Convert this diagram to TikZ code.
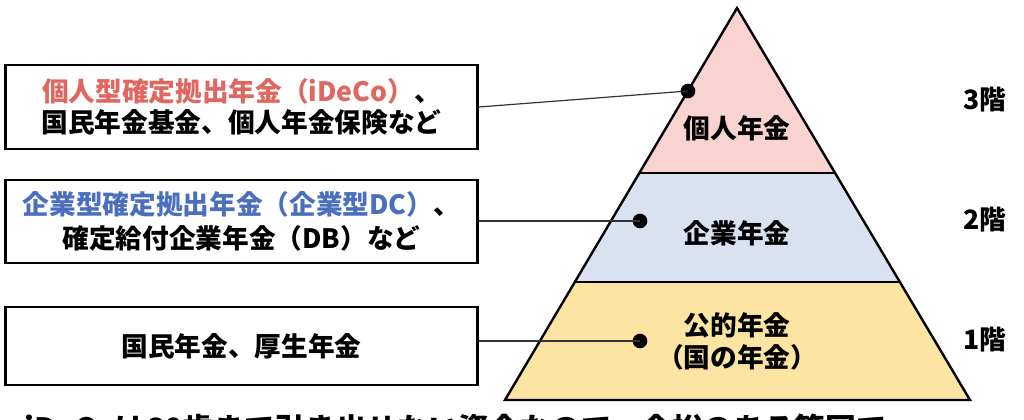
\documentclass[tikz,border=0pt]{standalone}
\usepackage{fontspec}
\setmainfont{Noto Sans CJK JP}
\usetikzlibrary{positioning}
\tikzset{circ/.style = {fill, circle, inner sep = 0, minimum size = 11pt}}
\tikzset{lbox/.style = {draw, line width = 1.6pt, minimum width = 354pt, inner sep = 0, align = center, font = \bfseries\fontsize{20}{23}\selectfont}}
\tikzset{tier/.style = {font = \bfseries\fontsize{20}{24}\selectfont, align = center}}
\definecolor{mred}{RGB}{224, 102, 95}
\definecolor{mblue}{RGB}{74, 111, 191}
\definecolor{tpink}{RGB}{248, 211, 208}
\definecolor{tblue}{RGB}{218, 226, 241}
\definecolor{tyell}{RGB}{252, 229, 162}
\begin{document}
\begin{tikzpicture}[x=0.75pt, y=-0.75pt]
    \clip (0, 0) rectangle (1024, 419);
    \fill [white] (0, 0) rectangle (1024, 419);
    % pyramid
    \coordinate (apex) at (737, 8);
    \coordinate (l1) at (639, 173);
    \coordinate (r1) at (835, 173);
    \coordinate (l2) at (575, 282);
    \coordinate (r2) at (899, 282);
    \coordinate (bl) at (505, 400);
    \coordinate (br) at (970, 400);
    \fill [tpink] (apex) -- (l1) -- (r1) -- cycle;
    \fill [tblue] (l1) -- (l2) -- (r2) -- (r1) -- cycle;
    \fill [tyell] (l2) -- (bl) -- (br) -- (r2) -- cycle;
    \draw [line width = 1.8pt] (l1) -- (r1);
    \draw [line width = 1.8pt] (l2) -- (r2);
    \draw [line width = 1.8pt, line join = miter] (apex) -- (bl) -- (br) -- cycle;
    \node [tier] (p3) at (737, 128) {個人年金};
    \node [tier] (p2) at (737, 233) {企業年金};
    \node [tier] (p1) at (737, 341) {公的年金\\（国の年金）};
    \foreach \n/\y in {3/100, 2/220, 1/340}{
      \node [tier] (f\n) at (985, \y) {{\n}階};
    }
    % boxes
    \node [lbox, minimum height = 63pt] (b3) at (241.5, 107) {\textcolor{mred}{個人型確定拠出年金（iDeCo）}、\\国民年金基金、個人年金保険など};
    \node [lbox, minimum height = 62pt, font = \bfseries\fontsize{20}{25}\selectfont] (b2) at (241.5, 221.5) {\textcolor{mblue}{企業型確定拠出年金（企業型DC）}、\\確定給付企業年金（DB）など};
    \node [lbox, minimum height = 58.5pt] (b1) at (241.5, 346) {国民年金、厚生年金};
    % dots and lines
    \node [circ] (d3) at (688, 91) {};
    \node [circ] (d2) at (640, 221) {};
    \node [circ] (d1) at (640, 341) {};
    \draw [line width = 0.9pt, black!80] (b3.east) -- (d3.center);
    \draw [line width = 0.9pt, black!80] (b2.east |- d2) -- (d2.center);
    \draw [line width = 0.9pt, black!80] (b1.east |- d1) -- (d1.center);
    % cut-off caption
    \node [anchor = west, font = \bfseries\fontsize{23}{26}\selectfont, inner sep = 0] (cap) at (24, 429) {iDeCoは60歳まで引き出せない資金なので、余裕のある範囲で};
\end{tikzpicture}
\end{document}
